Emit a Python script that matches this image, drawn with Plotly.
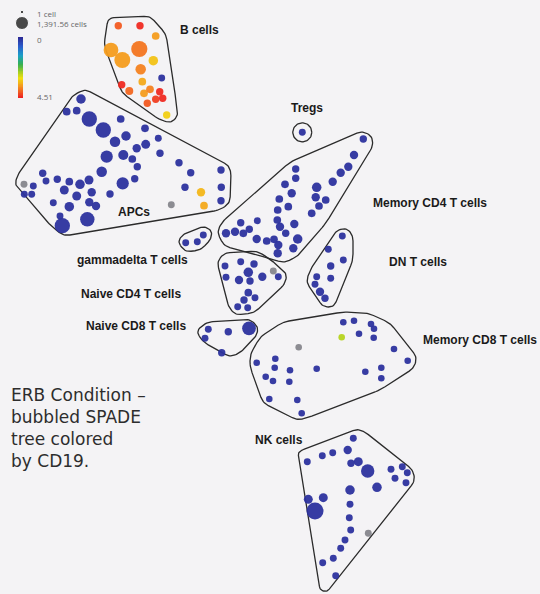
import numpy as np
import plotly.graph_objects as go

W, H = 540, 594
BG = "#f4f3f5"
MAX_CELLS = 1391.56
CD19_MAX = 4.51

# SPADE nodes per population: (x, y, cells, CD19); CD19 None -> grey node
b_cells = [
    (118.3, 25.7, 180, 4.1), (140, 25.7, 180, 4.45), (155.7, 36, 200, 3.6),
    (111, 50, 1000, 3.6), (122.3, 60, 1200, 3.6), (139.3, 49, 1250, 3.9),
    (153.3, 60.7, 350, 3.3), (140.7, 69.3, 450, 3.8), (142.3, 81.7, 200, 3.5),
    (161.7, 78, 150, 0.1), (121.7, 84.7, 180, 4.45), (129.3, 91, 220, 4.0),
    (144, 93.3, 200, 3.6), (150, 89.3, 200, 3.8), (159.7, 91.7, 180, 4.45),
    (155.7, 99.3, 180, 4.3), (162.7, 98.3, 180, 4.45), (147.3, 103.3, 180, 4.1),
    (166.7, 115, 180, 3.2),
]
apcs = [
    (81, 99, 350, 0.1), (66.7, 111.7, 200, 0.1), (76.7, 110.7, 200, 0.1),
    (89.3, 119, 1100, 0.1), (103.3, 130, 1100, 0.1), (120.7, 119, 200, 0.1),
    (115, 141.7, 450, 0.1), (126, 136, 350, 0.1), (145, 128.3, 200, 0.1),
    (158.3, 138.3, 150, 0.1), (145.7, 144.3, 300, 0.1), (136.7, 148.3, 250, 0.1),
    (123.3, 155, 400, 0.1), (106.7, 156.7, 650, 0.1), (132.3, 159, 200, 0.1),
    (160, 153.3, 180, 0.1), (137.3, 166.7, 180, 0.1), (101.7, 171.7, 450, 0.1),
    (179, 162.7, 180, 0.1), (190.7, 172.7, 180, 0.1), (221, 170, 180, 0.1),
    (42.7, 173.3, 180, 0.1), (134.7, 178.7, 180, 0.1), (122.7, 183.3, 650, 0.1),
    (24, 184.3, 150, None), (33.3, 186, 150, 0.1), (46, 181, 150, 0.1),
    (57.3, 179.3, 180, 0.1), (69.3, 181.7, 200, 0.1), (80, 184.3, 350, 0.1),
    (89, 180, 300, 0.1), (64.3, 190, 300, 0.1), (91.7, 192.3, 250, 0.1),
    (110, 194, 180, 0.1), (185, 187.3, 180, 0.1), (201, 192.3, 250, 3.4),
    (221.3, 187.3, 180, 0.1), (24.3, 194.3, 150, 0.1), (31.7, 194.3, 150, 0.1),
    (76.7, 196, 300, 0.1), (53.3, 202.7, 150, 0.1), (89.3, 202.3, 250, 0.1),
    (96, 206, 250, 0.1), (221, 200.7, 180, 0.1), (204, 205.7, 200, 3.5),
    (171.3, 204.7, 150, None), (69.3, 206.7, 350, 0.1), (60, 216, 150, 0.1),
    (87.3, 219.3, 950, 0.1), (62.3, 225.7, 1100, 0.1),
]
tregs = [(302.3, 132.3, 150, 0.1)]
memory_cd4 = [
    (363.3, 139, 180, 0.1), (354, 155, 250, 0.1), (348.3, 166.7, 250, 0.1),
    (340.7, 172.7, 250, 0.1), (332.7, 181.7, 250, 0.1), (295.7, 169, 180, 0.1),
    (295.7, 178.3, 180, 0.1), (285, 184.3, 200, 0.1), (291.7, 193.3, 250, 0.1),
    (316.7, 187.3, 350, 0.1), (279.3, 199, 200, 0.1), (315.7, 197.3, 250, 0.1),
    (325.7, 200, 200, 0.1), (288.3, 206.7, 200, 0.1), (319, 206, 200, 0.1),
    (277.7, 210, 200, 0.1), (311.7, 213.3, 200, 0.1), (240.7, 222.7, 180, 0.1),
    (257.3, 220.7, 150, 0.1), (277.3, 220, 200, 0.1), (280, 226.7, 250, 0.1),
    (294.3, 224, 250, 0.1), (249.3, 229.3, 180, 0.1), (235, 231.7, 250, 0.1),
    (226, 233.3, 250, 0.1), (243.3, 233.3, 200, 0.1), (285.7, 233.3, 180, 0.1),
    (256.7, 239, 250, 0.1), (266.7, 241, 200, 0.1), (274, 239.3, 200, 0.1),
    (297.7, 239, 350, 0.1), (278.3, 245, 250, 0.1), (293.3, 248.3, 250, 0.1),
    (277.7, 253.3, 250, 0.1),
]
gammadelta = [(185.7, 242.7, 150, 0.1), (197.3, 241.7, 150, 0.1), (203.3, 235, 150, 0.1)]
naive_cd4 = [
    (225, 266, 150, 0.1), (240.7, 261.7, 150, 0.1), (254, 264, 180, 0.1),
    (248.3, 272.3, 350, 0.1), (226, 277.3, 150, 0.1), (239, 280, 250, 0.1),
    (250, 281, 180, 0.1), (262.3, 276.7, 250, 0.1), (273.3, 271, 150, None),
    (278.3, 276.7, 150, 0.1), (248.3, 292.7, 200, 0.1), (255, 297.7, 150, 0.1),
    (244, 300, 180, 0.1), (237.7, 306.7, 150, 0.1), (247.7, 307.7, 150, 0.1),
]
dn_t = [
    (342.3, 236, 150, 0.1), (328.3, 249.3, 150, 0.1), (343.3, 260, 150, 0.1),
    (330.7, 266, 180, 0.1), (316.7, 276.7, 150, 0.1), (330.7, 278.3, 150, 0.1),
    (315, 284.3, 150, 0.1), (320, 291.7, 250, 0.1), (325, 298.3, 180, 0.1),
]
naive_cd8 = [
    (208.3, 329.3, 150, 0.1), (228.3, 331.7, 180, 0.1), (249, 328.3, 850, 0.1),
    (205, 338.3, 150, 0.1), (221.7, 352.7, 180, 0.1),
]
memory_cd8 = [
    (343.3, 322.3, 130, 0.1), (354, 320.7, 130, 0.1), (371, 324, 130, 0.1),
    (374, 328.7, 130, 0.1), (359, 333.7, 130, 0.1), (373.7, 337.7, 130, 0.1),
    (341.7, 337.3, 130, 2.7), (298.7, 347.3, 130, None), (394, 349, 130, 0.1),
    (407.7, 360.7, 130, 0.1), (256.7, 362.7, 130, 0.1), (275.3, 358.7, 130, 0.1),
    (274.7, 367.7, 130, 0.1), (290, 370.3, 130, 0.1), (316.7, 368.7, 130, 0.1),
    (365.3, 371.7, 130, 0.1), (381.3, 367.7, 130, 0.1), (265.7, 376.7, 130, 0.1),
    (273, 381, 130, 0.1), (289.3, 381.7, 130, 0.1), (381.3, 378.3, 130, 0.1),
    (269.3, 399, 130, 0.1), (297.3, 400, 130, 0.1), (301.7, 413.3, 130, 0.1),
]
nk_cells = [
    (353.3, 438.3, 150, 0.1), (347.7, 450, 250, 0.1), (332.7, 452.7, 150, 0.1),
    (322.3, 455.7, 150, 0.1), (307.3, 461.7, 150, 0.1), (351, 463.3, 180, 0.1),
    (358.3, 461.7, 300, 0.1), (367.7, 471, 800, 0.1), (391, 469.3, 150, 0.1),
    (402.3, 466.7, 150, 0.1), (407.3, 472.7, 150, 0.1), (395, 478.3, 150, 0.1),
    (406, 482.7, 150, 0.1), (377, 487.3, 350, 0.1), (350, 490, 350, 0.1),
    (308.3, 499.3, 300, 0.1), (323.3, 497.7, 300, 0.1), (315, 511, 1391.56, 0.1),
    (350, 504.3, 150, 0.1), (349.3, 517.7, 150, 0.1), (350.7, 530, 150, 0.1),
    (368.3, 533.3, 150, None), (345, 540, 150, 0.1), (340.7, 548.3, 150, 0.1),
    (333.3, 558.3, 150, 0.1), (322.7, 562.7, 150, 0.1), (335.7, 575.7, 150, 0.1),
]

# population outlines (polygon vertices), Tregs drawn as a circle
hull_b = [(108, 18), (150, 16), (166, 34), (176, 100), (178, 116), (171, 123), (160, 120), (122, 93), (104, 45)]
hull_apc = [(85, 89), (228, 165), (231, 172), (230, 203), (220, 210), (64, 236), (52, 227), (15, 185), (17, 176), (72, 96)]
hull_cd4m = [(217, 232), (222, 222), (290, 162), (362, 131), (372, 136), (373, 146), (326, 223), (298, 256), (284, 263), (268, 258), (224, 246)]
hull_gd = [(178, 242), (182, 235), (204, 226), (212, 231), (211, 239), (201, 250), (185, 252)]
hull_cd4n = [(217, 262), (224, 253), (257, 251), (270, 259), (287, 274), (285, 284), (254, 313), (236, 315), (229, 308)]
hull_dn = [(306, 282), (310, 270), (337, 230), (347, 228), (353, 236), (353, 260), (334, 307), (323, 307)]
hull_cd8n = [(196, 331), (207, 322), (250, 319), (258, 327), (257, 335), (240, 353), (230, 357), (203, 342)]
hull_cd8m = [(250, 355), (260, 337), (283, 322), (343, 312), (368, 313), (390, 323), (417, 357), (414, 368), (380, 390), (307, 418), (297, 420), (263, 403), (250, 367)]
hull_nk = [(298, 453), (302, 450), (357, 429), (365, 432), (413, 470), (415, 481), (327, 592), (320, 590)]
tregs_ring = (302.3, 132.3, 9.5)

label_text = ["B cells", "Tregs", "Memory CD4 T cells", "APCs", "gammadelta T cells",
              "DN T cells", "Naive CD4 T cells", "Naive CD8 T cells", "Memory CD8 T cells", "NK cells"]
label_x = [178, 289, 371, 116, 75, 387, 79, 84, 421, 253]
label_y = [30, 108, 203, 212, 260, 262, 294, 326, 340, 440]

caption = "ERB Condition –<br>bubbled SPADE<br>tree colored<br>by CD19."

CD19_SCALE = [
    [0.0, "#2c2a96"], [0.15, "#2a5ccc"], [0.3, "#1aa0c8"], [0.45, "#35b050"],
    [0.58, "#a8d020"], [0.68, "#f0e010"], [0.82, "#f59020"], [1.0, "#ee2222"],
]


def node_size(c):
    return 2 + 15 * np.sqrt(np.asarray(c, float) / MAX_CELLS)


def rounded(pts, r=6, n=8):
    pts = np.asarray(pts, float)
    out = []
    m = len(pts)
    for i in range(m):
        p0, p1, p2 = pts[i - 1], pts[i], pts[(i + 1) % m]
        l0 = np.linalg.norm(p0 - p1); l2 = np.linalg.norm(p2 - p1)
        rr = min(r, l0 / 2, l2 / 2)
        a = p1 + (p0 - p1) / l0 * rr; b = p1 + (p2 - p1) / l2 * rr
        for t in np.linspace(0, 1, n):
            out.append((1 - t) ** 2 * a + 2 * (1 - t) * t * p1 + t ** 2 * b)
    out.append(out[0])
    return np.array(out)


fig = go.Figure()

for hull in [hull_b, hull_apc, hull_cd4m, hull_gd, hull_cd4n, hull_dn, hull_cd8n, hull_cd8m, hull_nk]:
    pts = rounded(hull)
    fig.add_trace(go.Scatter(x=pts[:, 0], y=pts[:, 1], mode="lines",
                             line=dict(color="#2b2b2b", width=1.3), hoverinfo="skip"))
ang = np.linspace(0, 2 * np.pi, 60)
fig.add_trace(go.Scatter(x=tregs_ring[0] + tregs_ring[2] * np.cos(ang), y=tregs_ring[1] + tregs_ring[2] * np.sin(ang),
                         mode="lines", line=dict(color="#2b2b2b", width=1.3), hoverinfo="skip"))

nodes = b_cells + apcs + tregs + memory_cd4 + gammadelta + naive_cd4 + dn_t + naive_cd8 + memory_cd8 + nk_cells
nodes = sorted(nodes, key=lambda n: -n[2])
col = [n for n in nodes if n[3] is not None]
grey = [n for n in nodes if n[3] is None]

fig.add_trace(go.Scatter(
    x=[n[0] for n in col], y=[n[1] for n in col], mode="markers",
    marker=dict(size=node_size([n[2] for n in col]), color=[n[3] for n in col],
                colorscale=CD19_SCALE, cmin=0, cmax=CD19_MAX, line=dict(width=0), opacity=0.95),
    hovertemplate="cells %{customdata[0]}<br>CD19 %{customdata[1]}<extra></extra>",
    customdata=[[n[2], n[3]] for n in col]))
fig.add_trace(go.Scatter(
    x=[n[0] for n in grey], y=[n[1] for n in grey], mode="markers",
    marker=dict(size=node_size([n[2] for n in grey]), color="#606068", line=dict(width=0)),
    hoverinfo="skip"))

# bubble size legend
fig.add_trace(go.Scatter(x=[22, 22], y=[12, 23], mode="markers",
                         marker=dict(size=[3.5, 13], color="black"), hoverinfo="skip"))
fig.add_annotation(x=35, y=13, text="1 cell", showarrow=False, xanchor="left",
                   font=dict(size=8, color="#666"))
fig.add_annotation(x=35, y=23.5, text="1,391.56 cells", showarrow=False, xanchor="left",
                   font=dict(size=8, color="#666"))

# colour ramp legend
ramp = np.linspace(0, CD19_MAX, 80)
fig.add_trace(go.Heatmap(z=[[v] for v in ramp], x=[0], y=ramp, xaxis="x2", yaxis="y2",
                         colorscale=CD19_SCALE, zmin=0, zmax=CD19_MAX, showscale=False, hoverinfo="skip"))
fig.add_annotation(x=35, y=39.5, text="0", showarrow=False, xanchor="left", font=dict(size=8, color="#666"))
fig.add_annotation(x=35, y=96, text="4.51", showarrow=False, xanchor="left", font=dict(size=8, color="#666"))

for t, x, y in zip(label_text, label_x, label_y):
    fig.add_annotation(x=x, y=y, text=f"<b>{t}</b>", showarrow=False, xanchor="left", yanchor="middle",
                       font=dict(family="Liberation Sans, Arial", size=12, color="#1a1a1a"))

fig.add_annotation(x=9, y=383, text=caption, showarrow=False, xanchor="left", yanchor="top", align="left",
                   font=dict(family="DejaVu Sans", size=17, color="#2d2d2d"))

fig.update_layout(
    width=W, height=H, margin=dict(l=0, r=0, t=0, b=0),
    paper_bgcolor=BG, plot_bgcolor=BG, showlegend=False,
    xaxis=dict(range=[0, W], visible=False, domain=[0, 1]),
    yaxis=dict(range=[H, 0], visible=False, domain=[0, 1]),
    xaxis2=dict(domain=[18 / W, 23 / W], visible=False, anchor="y2"),
    yaxis2=dict(domain=[1 - 98 / H, 1 - 37 / H], visible=False, autorange="reversed", anchor="x2"),
)

fig.write_html("out.html", config={"displayModeBar": False},
               post_script="document.body.style.margin='0';document.body.style.overflow='hidden';"
                           "document.body.style.background='" + BG + "';")
